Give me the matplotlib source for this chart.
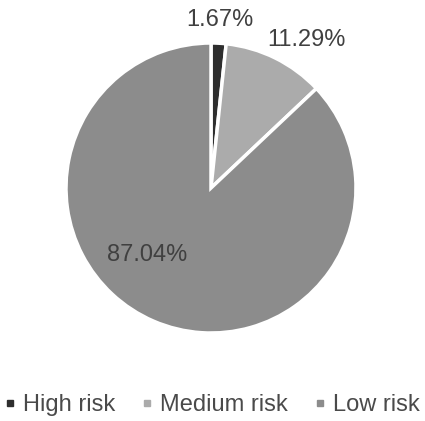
import matplotlib.pyplot as plt
from matplotlib.lines import Line2D

# Daten
categories = ['High risk', 'Medium risk', 'Low risk']
shares = [1.67, 11.29, 87.04]
colors = ['#2e2e2e', '#ababab', '#8c8c8c']

plt.rcParams['font.family'] = ['Liberation Sans', 'DejaVu Sans']

fig = plt.figure(figsize=(4.25, 4.21), dpi=100)
ax = fig.add_axes([66 / 425, 88 / 421, 290 / 425, 290 / 421])

wedges, texts, autotexts = ax.pie(
    shares, colors=colors, startangle=90, counterclock=False, radius=1,
    autopct='%.2f%%', pctdistance=1.17,
    wedgeprops=dict(edgecolor='white', linewidth=2.5),
    textprops=dict(fontsize=17, color='#404040'))

# Beschriftungen etwas verschieben wie im Original
label_pos = [(0.06, 1.16), (0.66, 1.02), (-0.44, -0.46)]
for t, p in zip(autotexts, label_pos):
    t.set_position(p)
    t.set_clip_on(False)

ax.set_xlim(-1, 1)
ax.set_ylim(-1, 1)
ax.set_aspect('equal')
ax.axis('off')

handles = [Line2D([], [], marker='s', linestyle='none', markersize=4.5,
                  markerfacecolor=c, markeredgecolor=c) for c in colors]
fig.legend(handles, categories, loc='center', bbox_to_anchor=(0.5, 16 / 421),
           ncol=3, frameon=False, fontsize=17, handlelength=0.4,
           handletextpad=0.35, columnspacing=1.15, borderpad=0.1,
           labelcolor='#4a4a4a')

plt.savefig('out.png', dpi=100, facecolor='white')
plt.close()
